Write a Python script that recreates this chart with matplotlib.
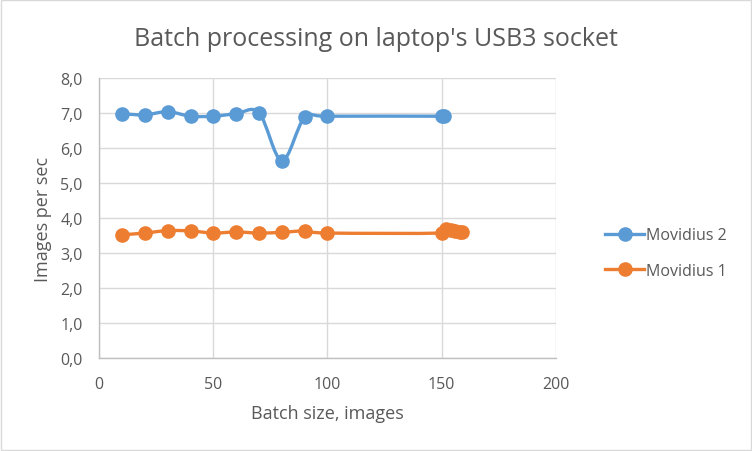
import matplotlib
matplotlib.use("Agg")
import matplotlib.pyplot as plt
from matplotlib.path import Path
from matplotlib.patches import PathPatch, Rectangle
from matplotlib.lines import Line2D
from matplotlib.ticker import FuncFormatter

# Data
batch_m2 = [10, 20, 30, 40, 50, 60, 70, 80, 90, 100, 150, 151]
speed_m2 = [6.98, 6.95, 7.04, 6.91, 6.91, 6.98, 7.01, 5.64, 6.88, 6.91, 6.91, 6.91]

batch_m1 = [10, 20, 30, 40, 50, 60, 70, 80, 90, 100, 150, 152, 154, 156, 158, 159]
speed_m1 = [3.52, 3.57, 3.64, 3.63, 3.57, 3.60, 3.57, 3.59, 3.63, 3.57,
            3.57, 3.69, 3.66, 3.63, 3.61, 3.60]

series_names = ["Movidius 2", "Movidius 1"]
colors = ["#5B9BD5", "#ED7D31"]

plt.rcParams["font.family"] = ["Open Sans", "DejaVu Sans"]
text_grey = "#595959"


def smooth_path(xs, ys, sx, sy):
    # Excel-style smoothed line: cubic bezier through the points
    px = [x / sx for x in xs]
    py = [y / sy for y in ys]
    n = len(px)
    verts = [(xs[0], ys[0])]
    codes = [Path.MOVETO]
    for i in range(n - 1):
        i0 = max(i - 1, 0)
        i3 = min(i + 2, n - 1)
        c1 = (px[i] + (px[i + 1] - px[i0]) / 6, py[i] + (py[i + 1] - py[i0]) / 6)
        c2 = (px[i + 1] - (px[i3] - px[i]) / 6, py[i + 1] - (py[i3] - py[i]) / 6)
        verts += [(c1[0] * sx, c1[1] * sy), (c2[0] * sx, c2[1] * sy),
                  (xs[i + 1], ys[i + 1])]
        codes += [Path.CURVE4] * 3
    return Path(verts, codes)


fig = plt.figure(figsize=(7.52, 4.52), dpi=100)
ax = fig.add_axes([0.132, 0.206, 0.607, 0.619])

for xs, ys, c in [(batch_m2, speed_m2, colors[0]), (batch_m1, speed_m1, colors[1])]:
    ax.add_patch(PathPatch(smooth_path(xs, ys, 200, 8), fill=False,
                           edgecolor=c, lw=2.4, capstyle="round", zorder=3))
    ax.plot(xs, ys, linestyle="none", marker="o", markersize=9.5,
            color=c, zorder=4)

ax.set_xlim(0, 200)
ax.set_ylim(0, 8)
ax.set_xticks([0, 50, 100, 150, 200])
ax.set_yticks(range(0, 9))
ax.yaxis.set_major_formatter(FuncFormatter(lambda v, p: f"{v:.1f}".replace(".", ",")))

ax.grid(True, color="#D9D9D9", lw=1)
ax.set_axisbelow(True)
for s in ["top", "right"]:
    ax.spines[s].set_visible(False)
for s in ["left", "bottom"]:
    ax.spines[s].set_color("#BFBFBF")
    ax.spines[s].set_linewidth(1)
ax.tick_params(length=0, labelsize=11.5, labelcolor=text_grey)
ax.tick_params(axis="x", pad=13)
ax.tick_params(axis="y", pad=12)

ax.set_xlabel("Batch size, images", fontsize=13, color=text_grey)
ax.set_ylabel("Images per sec", fontsize=13, color=text_grey)
ax.xaxis.set_label_coords(0.5, -0.165)
ax.yaxis.set_label_coords(-0.103, 0.5)
fig.suptitle("Batch processing on laptop's USB3 socket", fontsize=18,
             color=text_grey, y=0.94)

handles = [Line2D([], [], color=c, lw=2.4, marker="o", markersize=9.5) for c in colors]
leg = fig.legend(handles, series_names, loc="center left",
                 bbox_to_anchor=(0.786, 0.438), frameon=False, fontsize=11.5,
                 handlelength=2.4, labelspacing=1.2, handletextpad=0.15)
for t in leg.get_texts():
    t.set_color(text_grey)

fig.patches.append(Rectangle((0.0015, 0.0025), 0.997, 0.995, transform=fig.transFigure,
                             fill=False, edgecolor="#D9D9D9", lw=1))

fig.savefig("out.png", dpi=100)
